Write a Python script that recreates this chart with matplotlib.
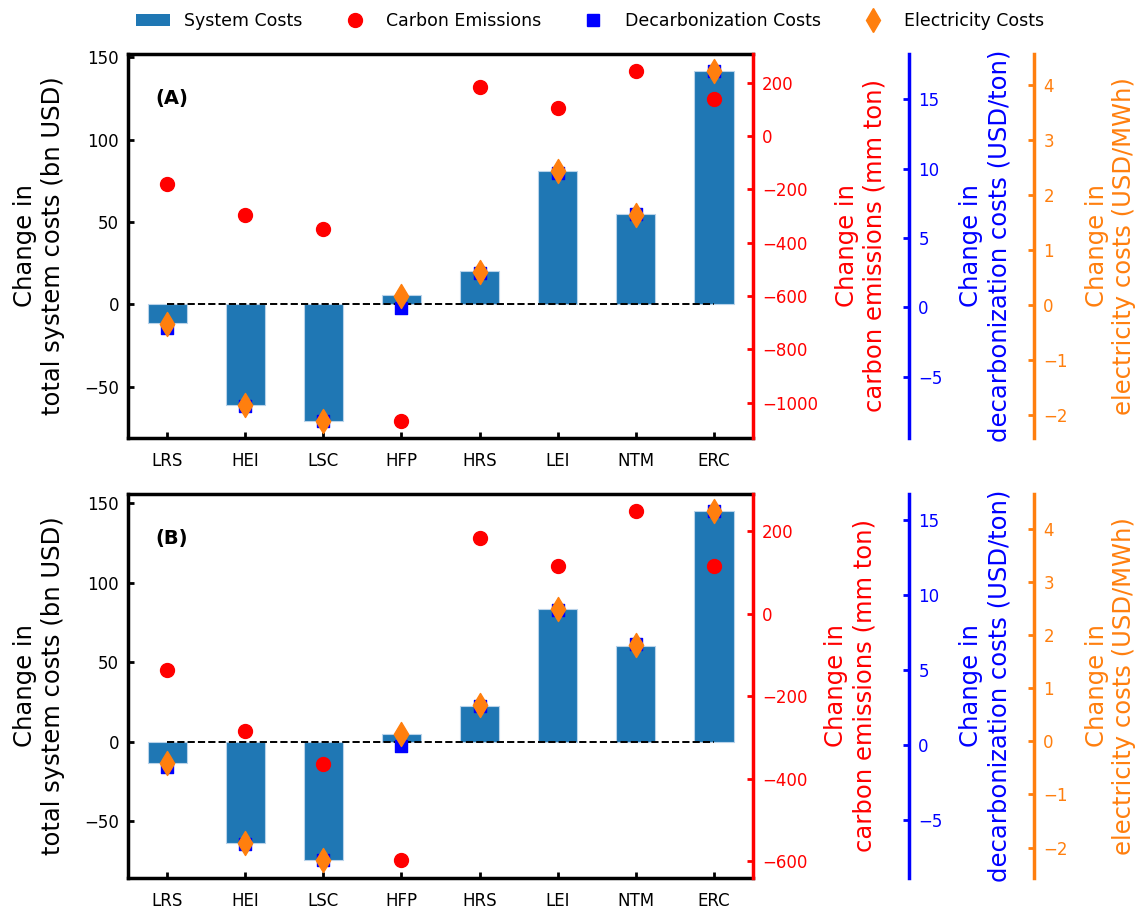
import matplotlib
matplotlib.use("Agg")
import matplotlib.pyplot as plt
from matplotlib.lines import Line2D
from matplotlib.patches import Patch
import numpy as np

scenarios = ["LRS", "HEI", "LSC", "HFP", "HRS", "LEI", "NTM", "ERC"]

# panel (A)
sys_costs_a = [-11.5, -61, -70.5, 5.6, 20, 81, 55, 141.5]
emissions_a = [-181, -296, -348, -1067, 186, 106, 243, 141]
decarb_a = [-1.45, -7.1, -8.15, -0.05, 2.5, 9.7, 6.7, 17.0]
elec_a = [-0.35, -1.82, -2.10, 0.17, 0.59, 2.43, 1.64, 4.24]

# panel (B)
sys_costs_b = [-13.6, -63.4, -74.5, 4.6, 22.6, 83.2, 60.4, 144.7]
emissions_b = [-137, -285, -365, -597, 184, 117, 248, 117]
decarb_b = [-1.48, -6.64, -7.7, -0.1, 2.6, 8.97, 6.76, 15.57]
elec_b = [-0.41, -1.91, -2.24, 0.14, 0.69, 2.49, 1.81, 4.33]

ORANGE = "#ff7f0e"
BAR = "#1f77b4"
LW = 2.5
LABEL_FS = 17.5
TICK_FS = 12


def style_extra_axis(ax2, color, label):
    ax2.set_ylabel(label, color=color, fontsize=LABEL_FS, labelpad=12)
    ax2.tick_params(axis="y", colors=color, direction="in", width=2, length=4,
                    labelsize=TICK_FS, pad=6.5)
    ax2.spines["right"].set_color(color)
    ax2.spines["right"].set_linewidth(LW)
    for s in ["left", "top", "bottom"]:
        ax2.spines[s].set_visible(False)


def draw_panel(ax, label, costs, emis, decarb, elec):
    x = np.arange(len(scenarios))
    ax.bar(x, costs, width=0.5, color=BAR, edgecolor="#b9d3ea", linewidth=0.8)
    ax.plot([x[0], x[-1]], [0, 0], "k--", lw=1.4)
    ax.set_xlim(-0.5, len(scenarios) - 0.5)
    ax.set_xticks(x)
    ax.set_xticklabels(scenarios)
    ax.set_ylabel("Change in\ntotal system costs (bn USD)", fontsize=LABEL_FS, labelpad=14)
    ax.tick_params(axis="y", direction="in", width=2, length=4, labelsize=TICK_FS, pad=6.5)
    ax.tick_params(axis="x", direction="in", width=2, length=4, labelsize=TICK_FS, pad=10)
    for s in ["left", "bottom", "top"]:
        ax.spines[s].set_linewidth(LW)
    ax.text(0.043, 0.885, label, transform=ax.transAxes, fontsize=14,
            fontweight="bold", va="center")

    ax_r = ax.twinx()
    ax_r.scatter(x, emis, s=100, color="red", marker="o", zorder=3)
    style_extra_axis(ax_r, "red", "Change in\ncarbon emissions (mm ton)")

    ax_b = ax.twinx()
    ax_b.spines["right"].set_position(("axes", 1.25))
    ax_b.scatter(x, decarb, s=85, color="blue", marker="s", zorder=3)
    style_extra_axis(ax_b, "blue", "Change in\ndecarbonization costs (USD/ton)")

    ax_o = ax.twinx()
    ax_o.spines["right"].set_position(("axes", 1.45))
    ax_o.scatter(x, elec, s=150, color=ORANGE, marker="d", zorder=3)
    style_extra_axis(ax_o, ORANGE, "Change in\nelectricity costs (USD/MWh)")


fig = plt.figure(figsize=(11.41, 9.10), dpi=100)
ax_a = fig.add_axes([0.1122, 0.5187, 0.5478, 0.422])
ax_bp = fig.add_axes([0.1122, 0.0355, 0.5478, 0.4216])

draw_panel(ax_a, "(A)", sys_costs_a, emissions_a, decarb_a, elec_a)
draw_panel(ax_bp, "(B)", sys_costs_b, emissions_b, decarb_b, elec_b)

handles = [
    Patch(facecolor=BAR, label="System Costs"),
    Line2D([], [], ls="none", marker="o", color="red", markersize=10, label="Carbon Emissions"),
    Line2D([], [], ls="none", marker="s", color="blue", markersize=9, label="Decarbonization Costs"),
    Line2D([], [], ls="none", marker="d", color=ORANGE, markersize=12, label="Electricity Costs"),
]
fig.legend(handles=handles, loc="upper center", bbox_to_anchor=(0.517, 1.004), ncol=4,
           frameon=False, fontsize=12.5, columnspacing=2.0)

fig.savefig("out.png", dpi=100)
